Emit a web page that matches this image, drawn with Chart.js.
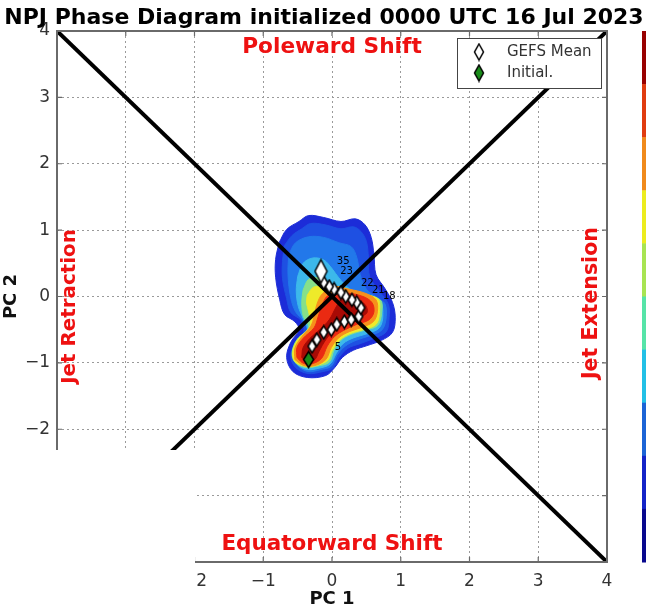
<!DOCTYPE html>
<html><head><meta charset="utf-8">
<script src="https://cdn.jsdelivr.net/npm/chart.js@4.4.0/dist/chart.umd.min.js"></script>
<style>html,body{margin:0;padding:0;background:#fff;}#wrap{width:646px;height:613px;position:relative;}</style>
</head><body><div id="wrap"><canvas id="c" width="646" height="613"></canvas></div>
<script>
// ---------------- DATA ----------------
const titleText = "NPJ Phase Diagram initialized 0000 UTC 16 Jul 2023";
const xTicks = [-4, -3, -2, -1, 0, 1, 2, 3, 4];
const yTicks = [-4, -3, -2, -1, 0, 1, 2, 3, 4];
const xTitle = "PC 1";
const yTitle = "PC 2";
const legendLabels = ["GEFS Mean", "Initial."];
const quadrantLabels = ["Poleward Shift", "Equatorward Shift", "Jet Retraction", "Jet Extension"];
const quadrantX = [0, 0, -3.81, 3.78];
const quadrantY = [3.76, -3.74, -0.15, -0.10];
const diagonalA = [[-4, 4], [4, -4]];
const diagonalB = [[-4, -4], [4, 4]];
// GEFS ensemble-mean trajectory (PC1, PC2)
const meanX = [-0.29, -0.22, -0.12, -0.01, 0.07, 0.18, 0.28, 0.39, 0.42, 0.36, 0.29, 0.20, 0.13, 0.03, -0.04, -0.12, -0.16];
const meanY = [-0.75, -0.65, -0.54, -0.50, -0.42, -0.38, -0.35, -0.30, -0.17, -0.09, -0.05, 0.00, 0.06, 0.11, 0.15, 0.21, 0.38];
const initialX = [-0.34];
const initialY = [-0.95];
const dayLabels = ["35", "23", "22", "21", "18", "5"];
const dayLabelX = [0.07, 0.12, 0.42, 0.58, 0.74, 0.04];
const dayLabelY = [0.53, 0.38, 0.20, 0.09, 0.00, -0.77];
// Ensemble density, filled contour levels (outer -> inner), polygons in (PC1, PC2)
const density1 = [[-0.77,0.81],[-0.66,1.01],[-0.48,1.13],[-0.34,1.22],[-0.12,1.19],[0.13,1.13],[0.34,1.17],[0.48,1.08],[0.57,0.89],[0.61,0.63],[0.64,0.33],[0.77,0.12],[0.88,-0.09],[0.92,-0.32],[0.88,-0.54],[0.72,-0.66],[0.51,-0.74],[0.31,-0.81],[0.15,-0.92],[0.04,-1.07],[-0.09,-1.19],[-0.36,-1.22],[-0.57,-1.13],[-0.66,-0.92],[-0.60,-0.69],[-0.48,-0.50],[-0.54,-0.38],[-0.69,-0.27],[-0.76,-0.05],[-0.82,0.29],[-0.82,0.56]];
const density2 = [[-0.69,0.77],[-0.58,0.92],[-0.44,1.02],[-0.31,1.10],[-0.10,1.08],[0.13,1.02],[0.31,1.05],[0.42,0.98],[0.50,0.83],[0.53,0.59],[0.55,0.29],[0.69,0.08],[0.82,-0.12],[0.83,-0.32],[0.79,-0.53],[0.61,-0.63],[0.41,-0.71],[0.23,-0.78],[0.10,-0.92],[0.01,-1.08],[-0.13,-1.13],[-0.35,-1.16],[-0.53,-1.07],[-0.60,-0.90],[-0.54,-0.71],[-0.41,-0.53],[-0.45,-0.36],[-0.60,-0.24],[-0.66,-0.03],[-0.72,0.27],[-0.72,0.53]];
const density3 = [[-0.63,0.63],[-0.53,0.81],[-0.34,0.90],[-0.12,0.89],[0.10,0.81],[0.28,0.75],[0.36,0.59],[0.41,0.33],[0.50,0.11],[0.66,-0.02],[0.77,-0.11],[0.79,-0.30],[0.73,-0.50],[0.55,-0.59],[0.35,-0.66],[0.19,-0.75],[0.07,-0.89],[-0.01,-1.05],[-0.16,-1.10],[-0.35,-1.13],[-0.50,-1.04],[-0.55,-0.89],[-0.50,-0.71],[-0.36,-0.54],[-0.41,-0.38],[-0.53,-0.23],[-0.60,-0.02],[-0.64,0.33]];
const density4 = [[-0.50,0.30],[-0.42,0.50],[-0.28,0.58],[-0.12,0.55],[0.00,0.42],[0.10,0.28],[0.25,0.12],[0.47,0.02],[0.69,-0.05],[0.74,-0.27],[0.69,-0.47],[0.51,-0.56],[0.32,-0.62],[0.16,-0.71],[0.06,-0.86],[-0.03,-1.02],[-0.19,-1.08],[-0.36,-1.10],[-0.51,-1.02],[-0.57,-0.87],[-0.50,-0.68],[-0.36,-0.50],[-0.42,-0.33],[-0.49,-0.15],[-0.52,0.08]];
const density5 = [[-0.42,0.10],[-0.34,0.26],[-0.20,0.28],[-0.08,0.20],[0.06,0.12],[0.34,0.06],[0.70,-0.05],[0.72,-0.26],[0.66,-0.44],[0.47,-0.51],[0.28,-0.57],[0.13,-0.66],[0.03,-0.81],[-0.04,-0.99],[-0.22,-1.05],[-0.38,-1.07],[-0.54,-0.99],[-0.58,-0.84],[-0.51,-0.65],[-0.34,-0.47],[-0.42,-0.29],[-0.44,-0.08]];
const density6 = [[-0.36,0.02],[-0.27,0.14],[-0.14,0.14],[0.02,0.08],[0.28,0.04],[0.66,-0.03],[0.69,-0.24],[0.64,-0.42],[0.45,-0.50],[0.26,-0.56],[0.12,-0.65],[0.01,-0.80],[-0.06,-0.96],[-0.23,-1.04],[-0.39,-1.05],[-0.54,-0.98],[-0.57,-0.83],[-0.50,-0.65],[-0.32,-0.45],[-0.34,-0.23],[-0.37,-0.10]];
const density7 = [[-0.54,-0.95],[-0.54,-0.78],[-0.45,-0.62],[-0.31,-0.45],[-0.26,-0.30],[-0.22,-0.12],[-0.14,0.04],[0.04,0.15],[0.25,0.11],[0.48,0.05],[0.64,-0.05],[0.66,-0.23],[0.60,-0.38],[0.42,-0.47],[0.25,-0.53],[0.10,-0.62],[-0.01,-0.77],[-0.09,-0.95],[-0.25,-1.04],[-0.41,-1.04]];
const density8 = [[-0.51,-0.92],[-0.51,-0.77],[-0.42,-0.63],[-0.26,-0.47],[-0.20,-0.30],[-0.14,-0.12],[-0.05,0.02],[0.22,0.05],[0.45,0.00],[0.58,-0.09],[0.61,-0.23],[0.54,-0.35],[0.36,-0.42],[0.19,-0.50],[0.04,-0.60],[-0.07,-0.75],[-0.15,-0.93],[-0.28,-1.01],[-0.41,-1.01]];
const density9 = [[-0.44,-0.92],[-0.42,-0.77],[-0.32,-0.63],[-0.18,-0.50],[-0.04,-0.35],[0.07,-0.14],[0.16,-0.02],[0.34,-0.05],[0.48,-0.12],[0.51,-0.24],[0.39,-0.32],[0.22,-0.39],[0.04,-0.50],[-0.09,-0.65],[-0.19,-0.83],[-0.25,-0.95],[-0.35,-0.98]];

// ---------------- STYLE ----------------
const FONT = '"DejaVu Sans", "Liberation Sans", sans-serif';
const densityLayers = [density1, density2, density3, density4, density5, density6, density7, density8, density9];
const densityColors = ['#1c2cd8', '#1e50e2', '#2278ea', '#3cb8ea', '#86e08a', '#eeea2a', '#f7901c', '#ea2a12', '#a80a05'];
const colorbarColors = ['#980000', '#e03c10', '#f08a1c', '#ecec1e', '#a8e452', '#56e4a8', '#22c0e6', '#1c64d6', '#1424c8', '#08088e'];

function diamond(w, h, fill) {
  const c = document.createElement('canvas');
  c.width = w + 3; c.height = h + 3;
  const g = c.getContext('2d');
  const cx = c.width / 2, cy = c.height / 2;
  g.beginPath();
  g.moveTo(cx, cy - h / 2); g.lineTo(cx + w / 2, cy); g.lineTo(cx, cy + h / 2); g.lineTo(cx - w / 2, cy); g.closePath();
  g.fillStyle = fill; g.fill();
  g.lineWidth = 1.5; g.strokeStyle = '#000'; g.stroke();
  return c;
}
const dSmall = diamond(8, 13, '#ffffff');
const dBig = diamond(12, 23, '#ffffff');
const dGreen = diamond(10, 16, '#1a8c1a');
const dLegW = diamond(9, 16, '#ffffff');
const dLegG = diamond(9, 16, '#1a8c1a');

const toXY = arr => arr.map(p => ({x: p[0], y: p[1]}));
const closed = arr => toXY(arr.concat([arr[0]]));
const fmt = v => (v < 0 ? '\u2212' + Math.abs(v) : String(v));

const datasets = [];
datasets.push({label: 'Initial.', data: initialX.map((x, i) => ({x, y: initialY[i]})), showLine: false,
  pointStyle: dGreen, pointRadius: 8, order: 0});
datasets.push({label: 'GEFS Mean', data: meanX.map((x, i) => ({x, y: meanY[i]})), showLine: false,
  pointStyle: ctx => (ctx.dataIndex === meanX.length - 1 ? dBig : dSmall), pointRadius: 8, order: 1});
datasets.push({label: 'diagA', data: toXY(diagonalA), showLine: true, borderColor: '#000', borderWidth: 4, pointRadius: 0, order: 5, fill: false});
datasets.push({label: 'diagB', data: toXY(diagonalB), showLine: true, borderColor: '#000', borderWidth: 4, pointRadius: 0, order: 5, fill: false});
densityLayers.forEach((poly, i) => {
  datasets.push({label: 'density' + (i + 1), data: closed(poly), showLine: true, fill: 'shape',
    backgroundColor: densityColors[i], borderColor: densityColors[i], borderWidth: 1, tension: 0.35,
    pointRadius: 0, order: 100 - i});
});

const decor = {
  id: 'decor',
  beforeDraw(chart) {
    const c = chart.ctx; c.save(); c.fillStyle = '#fff'; c.fillRect(0, 0, chart.width, chart.height); c.restore();
  },
  afterDatasetsDraw(chart) {
    const c = chart.ctx, a = chart.chartArea, sx = chart.scales.x, sy = chart.scales.y;
    c.save();
    // day labels
    c.fillStyle = '#000'; c.font = '10px ' + FONT; c.textAlign = 'left'; c.textBaseline = 'middle';
    dayLabels.forEach((t, i) => c.fillText(t, sx.getPixelForValue(dayLabelX[i]), sy.getPixelForValue(dayLabelY[i])));
    // frame
    c.strokeStyle = '#6a6a6a'; c.lineWidth = 2;
    c.strokeRect(a.left, a.top, a.right - a.left, a.bottom - a.top);
    // inward ticks
    c.lineWidth = 1.2;
    xTicks.forEach(v => { const p = sx.getPixelForValue(v); c.beginPath(); c.moveTo(p, a.top); c.lineTo(p, a.top + 5); c.moveTo(p, a.bottom); c.lineTo(p, a.bottom - 5); c.stroke(); });
    yTicks.forEach(v => { const p = sy.getPixelForValue(v); c.beginPath(); c.moveTo(a.left, p); c.lineTo(a.left + 5, p); c.moveTo(a.right, p); c.lineTo(a.right - 5, p); c.stroke(); });
    // quadrant labels (red)
    const targetW = [180, 221, 155, 152];
    c.fillStyle = '#ee1111'; c.textAlign = 'center'; c.textBaseline = 'middle';
    quadrantLabels.forEach((t, i) => {
      c.font = 'bold 20px ' + FONT;
      const s = 20 * targetW[i] / c.measureText(t).width;
      c.font = 'bold ' + s.toFixed(1) + 'px ' + FONT;
      const px = sx.getPixelForValue(quadrantX[i]), py = sy.getPixelForValue(quadrantY[i]);
      c.save(); c.translate(px, py);
      if (i >= 2) c.rotate(-Math.PI / 2);
      c.fillText(t, 0, 0); c.restore();
    });
    // legend
    const lx = a.right - 150, ly = a.top + 7, lw = 144, lh = 50;
    c.fillStyle = '#fff'; c.fillRect(lx, ly, lw, lh);
    c.strokeStyle = '#444'; c.lineWidth = 1; c.strokeRect(lx + 0.5, ly + 0.5, lw, lh);
    c.drawImage(dLegW, lx + 22 - dLegW.width / 2, ly + 14 - dLegW.height / 2);
    c.drawImage(dLegG, lx + 22 - dLegG.width / 2, ly + 35 - dLegG.height / 2);
    c.fillStyle = '#333'; c.font = '15px ' + FONT; c.textAlign = 'left'; c.textBaseline = 'middle';
    c.fillText(legendLabels[0], lx + 50, ly + 14);
    c.fillText(legendLabels[1], lx + 50, ly + 35);
    // colorbar
    const n = colorbarColors.length, bh = (a.bottom - a.top) / n;
    colorbarColors.forEach((col, i) => { c.fillStyle = col; c.fillRect(642, a.top + i * bh, 10, bh + 0.5); });
    // title
    c.fillStyle = '#000'; c.textAlign = 'center'; c.textBaseline = 'alphabetic';
    c.font = 'bold 20px ' + FONT;
    const ts = 20 * 638 / c.measureText(titleText).width;
    c.font = 'bold ' + ts.toFixed(1) + 'px ' + FONT;
    c.fillText(titleText, 324, 24);
    c.restore();
  },
  afterDraw(chart) {
    const c = chart.ctx; c.save(); c.fillStyle = '#fff'; c.fillRect(0, 450, 195, 163); c.restore();
  }
};

new Chart(document.getElementById('c'), {
  type: 'scatter',
  data: {datasets},
  options: {
    responsive: false, animation: false, events: [],
    layout: {padding: {top: 31, right: 39, left: 0, bottom: 0}},
    plugins: {legend: {display: false}, tooltip: {enabled: false}, title: {display: false}},
    scales: {
      x: {type: 'linear', min: -4, max: 4,
        afterBuildTicks: s => { s.ticks = xTicks.map(v => ({value: v})); },
        afterFit: s => { s.height = 51; },
        ticks: {font: {family: FONT, size: 17}, color: '#333', padding: 9, maxRotation: 0, autoSkip: false, callback: v => fmt(v)},
        grid: {color: '#9a9a9a', lineWidth: 1, drawTicks: false},
        border: {display: false, dash: [2, 3]},
        title: {display: true, text: xTitle, color: '#111', font: {family: FONT, size: 18, weight: 'bold'}, padding: {top: 3, bottom: 3}}
      },
      y: {type: 'linear', min: -4, max: 4,
        afterBuildTicks: s => { s.ticks = yTicks.map(v => ({value: v})); },
        afterFit: s => { s.width = 57; },
        ticks: {font: {family: FONT, size: 17}, color: '#333', padding: 7, autoSkip: false, callback: v => fmt(v)},
        grid: {color: '#9a9a9a', lineWidth: 1, drawTicks: false},
        border: {display: false, dash: [2, 3]},
        title: {display: true, text: yTitle, color: '#111', font: {family: FONT, size: 18, weight: 'bold'}, padding: {top: 1, bottom: 1}}
      }
    }
  },
  plugins: [decor]
});
</script>
</body></html>
